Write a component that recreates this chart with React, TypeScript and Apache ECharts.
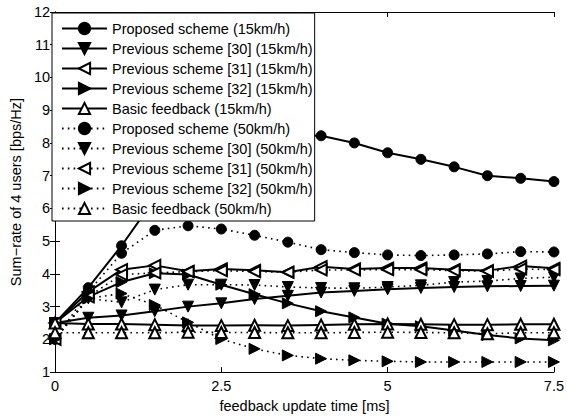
import React, { useEffect, useRef } from "react";
import * as echarts from "echarts";

const xValues = [0, 0.5, 1, 1.5, 2, 2.5, 3, 3.5, 4, 4.5, 5, 5.5, 6, 6.5, 7, 7.5];
const xTicks = [0, 2.5, 5, 7.5];

const proposed15 = [2.5, 3.58, 4.86, 6.3, 7.2, 7.75, 8.05, 8.22, 8.22, 8.0, 7.7, 7.5, 7.27, 7.0, 6.92, 6.82];
const prev30_15 = [2.5, 2.66, 2.73, 2.86, 3.0, 3.1, 3.23, 3.33, 3.43, 3.48, 3.53, 3.57, 3.6, 3.62, 3.63, 3.64];
const prev31_15 = [2.5, 3.45, 4.13, 4.26, 4.08, 4.15, 4.11, 4.05, 4.22, 4.15, 4.18, 4.18, 4.13, 4.1, 4.24, 4.17];
const prev32_15 = [2.5, 3.3, 3.75, 4.02, 3.98, 3.67, 3.38, 3.1, 2.86, 2.67, 2.48, 2.4, 2.27, 2.13, 2.03, 1.97];
const basic15 = [2.5, 2.47, 2.47, 2.45, 2.42, 2.42, 2.43, 2.42, 2.44, 2.46, 2.47, 2.46, 2.45, 2.45, 2.46, 2.46];
const proposed50 = [2.0, 3.45, 4.63, 5.33, 5.47, 5.37, 5.18, 4.97, 4.74, 4.65, 4.58, 4.56, 4.58, 4.61, 4.68, 4.67];
const prev30_50 = [2.0, 3.25, 3.13, 3.52, 3.67, 3.67, 3.66, 3.6, 3.57, 3.56, 3.6, 3.65, 3.75, 3.78, 3.86, 3.9];
const prev31_50 = [2.0, 3.3, 3.98, 4.03, 4.07, 4.1, 4.07, 4.05, 4.12, 4.12, 4.13, 4.13, 4.1, 4.08, 4.15, 4.13];
const prev32_50 = [2.0, 3.25, 3.4, 3.05, 2.52, 2.01, 1.71, 1.51, 1.41, 1.36, 1.33, 1.31, 1.31, 1.31, 1.31, 1.31];
const basic50 = [2.2, 2.2, 2.2, 2.2, 2.22, 2.21, 2.21, 2.2, 2.2, 2.21, 2.22, 2.21, 2.2, 2.17, 2.2, 2.2];

const seriesNames = [
  "Proposed scheme (15km/h)",
  "Previous scheme [30] (15km/h)",
  "Previous scheme [31] (15km/h)",
  "Previous scheme [32] (15km/h)",
  "Basic feedback (15km/h)",
  "Proposed scheme (50km/h)",
  "Previous scheme [30] (50km/h)",
  "Previous scheme [31] (50km/h)",
  "Previous scheme [32] (50km/h)",
  "Basic feedback (50km/h)",
];
const seriesValues = [
  proposed15, prev30_15, prev31_15, prev32_15, basic15,
  proposed50, prev30_50, prev31_50, prev32_50, basic50,
];

const FONT = "'Liberation Sans', Arial, Helvetica, sans-serif";

export default function App() {
  const ref = useRef<HTMLDivElement>(null);
  useEffect(() => {
    document.body.style.margin = "0";
    const chart = echarts.init(ref.current!, null, { renderer: "svg" });

    const markerKinds = [
      { symbol: "circle", rot: 0, open: false, size: 10 },
      { symbol: "triangle", rot: 180, open: false, size: 11 },
      { symbol: "triangle", rot: 90, open: true, size: 11 },
      { symbol: "triangle", rot: -90, open: false, size: 11 },
      { symbol: "triangle", rot: 0, open: true, size: 11 },
    ];

    const series = seriesNames.map((name, i) => {
      const k = markerKinds[i % 5];
      const dotted = i >= 5;
      return {
        name,
        type: "line",
        data: xValues.map((x, j) => [x, seriesValues[i][j]]),
        symbol: k.symbol,
        symbolRotate: k.rot,
        symbolSize: k.size,
        showAllSymbol: true,
        lineStyle: dotted
          ? { color: "#000", width: 1.6, type: [1.6, 4.2] }
          : { color: "#000", width: 2, type: "solid" },
        itemStyle: k.open
          ? { color: "#fff", borderColor: "#000", borderWidth: 2 }
          : { color: "#000", borderColor: "#000", borderWidth: 1 },
        emphasis: { disabled: true },
        z: 2,
      };
    });

    const axisCommon = {
      axisLine: { show: true, lineStyle: { color: "#000", width: 1 } },
      axisTick: { show: true, inside: true, length: 5, lineStyle: { color: "#000" } },
      splitLine: { show: false },
    };

    chart.setOption({
      animation: false,
      backgroundColor: "#fff",
      textStyle: { fontFamily: FONT },
      grid: { left: 50, right: 10, top: 12, bottom: 41, containLabel: false },
      xAxis: [
        {
          type: "value",
          min: xTicks[0],
          max: xTicks[xTicks.length - 1],
          interval: 2.5,
          position: "bottom",
          ...axisCommon,
          axisLabel: { color: "#000", fontSize: 14.5, fontFamily: FONT, margin: 6 },
          name: "feedback update time [ms]",
          nameLocation: "middle",
          nameGap: 23,
          nameTextStyle: { color: "#000", fontSize: 14.5, fontFamily: FONT },
        },
        {
          type: "value",
          min: xTicks[0],
          max: xTicks[xTicks.length - 1],
          interval: 2.5,
          position: "top",
          ...axisCommon,
          axisLabel: { show: false },
        },
      ],
      yAxis: [
        {
          type: "value",
          min: 1,
          max: 12,
          interval: 1,
          position: "left",
          ...axisCommon,
          axisLabel: { color: "#000", fontSize: 14.5, fontFamily: FONT, margin: 5 },
          name: "Sum\u2212rate of 4 users [bps/Hz]",
          nameLocation: "middle",
          nameGap: 29,
          nameTextStyle: { color: "#000", fontSize: 14.5, fontFamily: FONT },
        },
        {
          type: "value",
          min: 1,
          max: 12,
          interval: 1,
          position: "right",
          ...axisCommon,
          axisLabel: { show: false },
        },
      ],
      legend: {
        orient: "vertical",
        left: 52,
        top: 13,
        padding: [8, 2, 5, 9],
        itemWidth: 45,
        itemHeight: 14,
        itemGap: 5.0,
        backgroundColor: "#fff",
        borderColor: "#000",
        borderWidth: 1,
        borderRadius: 0,
        textStyle: { fontSize: 14.5, color: "#000", fontFamily: FONT },
        data: seriesNames,
        selectedMode: false,
        z: 10,
      },
      series,
    });

    return () => chart.dispose();
  }, []);

  return <div ref={ref} style={{ width: 567, height: 418 }} />;
}
